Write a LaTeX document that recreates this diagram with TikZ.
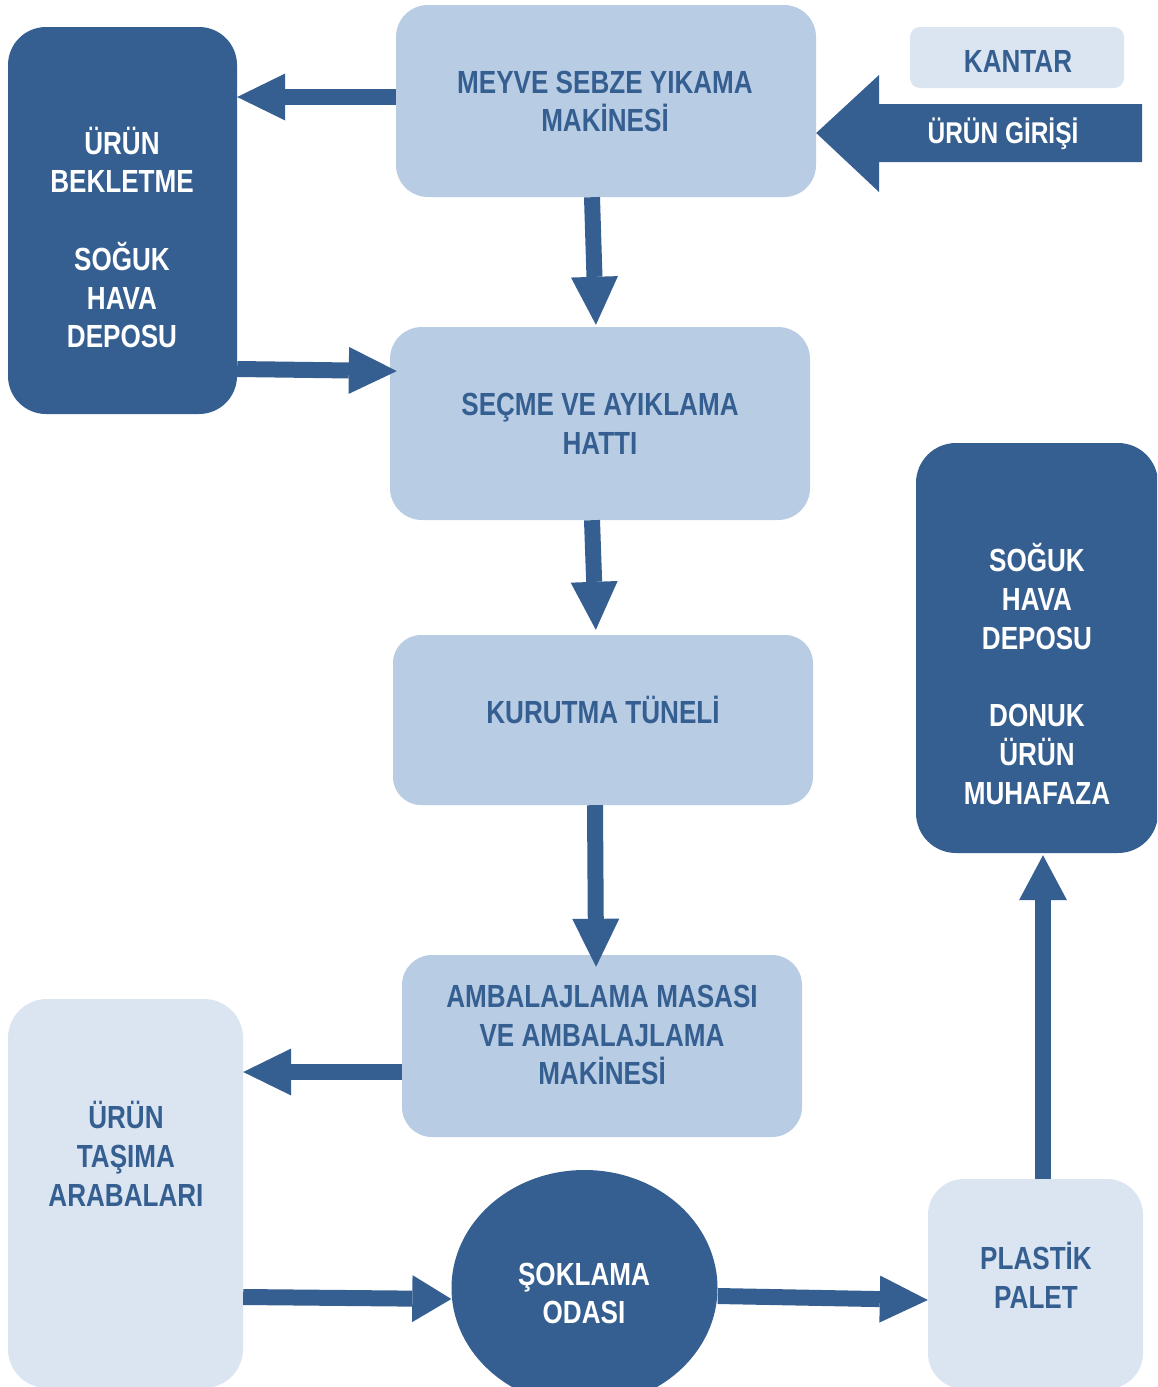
\documentclass[tikz,border=0pt]{standalone}
\usepackage{fontspec}
\setmainfont[FakeStretch=0.815]{Liberation Sans}
\usetikzlibrary{arrows.meta,shapes.geometric}
\definecolor{dark}{HTML}{365F91}
\definecolor{light}{HTML}{B8CCE4}
\definecolor{vlight}{HTML}{DBE5F1}
\begin{document}
\begin{tikzpicture}[x=1pt,y=-1pt,
  box/.style={rectangle, inner sep=0pt, draw=none},
  lbox/.style={box, fill=light},
  vbox/.style={box, fill=vlight},
  dbox/.style={box, fill=dark},
  txt/.style={align=center, font=\bfseries\fontsize{32}{38.7}\selectfont, inner sep=0pt},
  dtxt/.style={txt, text=dark},
  wtxt/.style={txt, text=white},
  flow/.style={draw=dark, line width=16pt, -{Triangle[width=47pt,length=48pt,line width=0pt]}},
  flowshort/.style={draw=dark, line width=16pt, -{Triangle[width=47pt,length=39pt,line width=0pt]}},
]
\useasboundingbox (0,0) rectangle (1157,1387);
\fill[white] (0,0) rectangle (1157,1387);
\clip (0,0) rectangle (1157,1387);

% boxes
\node[lbox, minimum width=420pt, minimum height=192pt, rounded corners=32pt] (meyve) at (606,101) {};
\node[vbox, minimum width=214pt, minimum height=61pt, rounded corners=10pt] (kantar) at (1017,57.5) {};
\node[dbox, minimum width=229pt, minimum height=387pt, rounded corners=38pt] (bekletme) at (122.5,220.5) {};
\node[lbox, minimum width=420pt, minimum height=193pt, rounded corners=32pt] (secme) at (600,423.5) {};
\node[lbox, minimum width=420pt, minimum height=170pt, rounded corners=28pt] (kurutma) at (603,720) {};
\node[lbox, minimum width=400pt, minimum height=182pt, rounded corners=30pt] (ambalaj) at (602,1046) {};
\node[vbox, minimum width=235pt, minimum height=389pt, rounded corners=39pt] (tasima) at (125.5,1193.5) {};
\node[dbox, minimum width=242pt, minimum height=410pt, rounded corners=40pt] (depo) at (1037,648) {};
\node[vbox, minimum width=215pt, minimum height=210pt, rounded corners=36pt] (plastik) at (1035.5,1284) {};
\node[dbox, ellipse, minimum width=266pt, minimum height=236pt] (sok) at (584.5,1288) {};

% entry block arrow
\fill[dark] (1142,104) -- (879,104) -- (879,75) -- (meyve.east |- 0,133) -- (879,192) -- (879,162) -- (1142,162) -- cycle;

% texts
\node[dtxt] (meyveT) at (605,101.5) {MEYVE SEBZE YIKAMA\\MAKİNESİ};
\node[dtxt] (kantarT) at (1018,61.5) {KANTAR};
\node[wtxt, font=\bfseries\fontsize{30}{36}\selectfont] (girisT) at (1003,134) {ÜRÜN GİRİŞİ};
\node[wtxt] (bekletmeT) at (122,237.5) {ÜRÜN\\BEKLETME\\[38.7pt]SOĞUK\\HAVA\\DEPOSU};
\node[dtxt] (secmeT) at (600,424) {SEÇME VE AYIKLAMA\\HATTI};
\node[dtxt] (kurutmaT) at (603,710) {KURUTMA TÜNELİ};
\node[dtxt] (ambalajT) at (602,1035) {AMBALAJLAMA MASASI\\VE AMBALAJLAMA\\MAKİNESİ};
\node[dtxt] (tasimaT) at (126,1154) {ÜRÜN\\TAŞIMA\\ARABALARI};
\node[wtxt] (sokT) at (584,1293.5) {ŞOKLAMA\\ODASI};
\node[dtxt] (plastikT) at (1036,1275) {PLASTİK\\PALET};
\node[wtxt] (depoT) at (1037,674) {SOĞUK\\HAVA\\DEPOSU\\[38.7pt]DONUK\\ÜRÜN\\MUHAFAZA};

% connectors
\draw[flow] (meyve.west |- 0,97) -- (bekletme.east |- 0,97);
\draw[flow, shorten >=2pt] (meyve.south -| 592,0) -- (secme.north -| 596,0);
\draw[flow, shorten >=-7pt] (bekletme.east |- 0,369) -- (secme.west |- 0,371);
\draw[flow, shorten >=5pt] (secme.south -| 592,0) -- (kurutma.north -| 596,0);
\draw[flow, shorten >=-12pt] (kurutma.south -| 595,0) -- (ambalaj.north -| 596,0);
\draw[flow] (ambalaj.west |- 0,1072) -- (tasima.east |- 0,1072);
\draw[flowshort] (tasima.east |- 0,1297) -- (sok.west |- 0,1299);
\draw[flow] (sok.east |- 0,1296) -- (plastik.west |- 0,1300);
\draw[draw=dark, line width=16pt, -{Triangle[width=48pt,length=45pt,line width=0pt]}, shorten >=2pt] (plastik.north -| 1043,0) -- (depo.south -| 1043,0);
\end{tikzpicture}
\end{document}
